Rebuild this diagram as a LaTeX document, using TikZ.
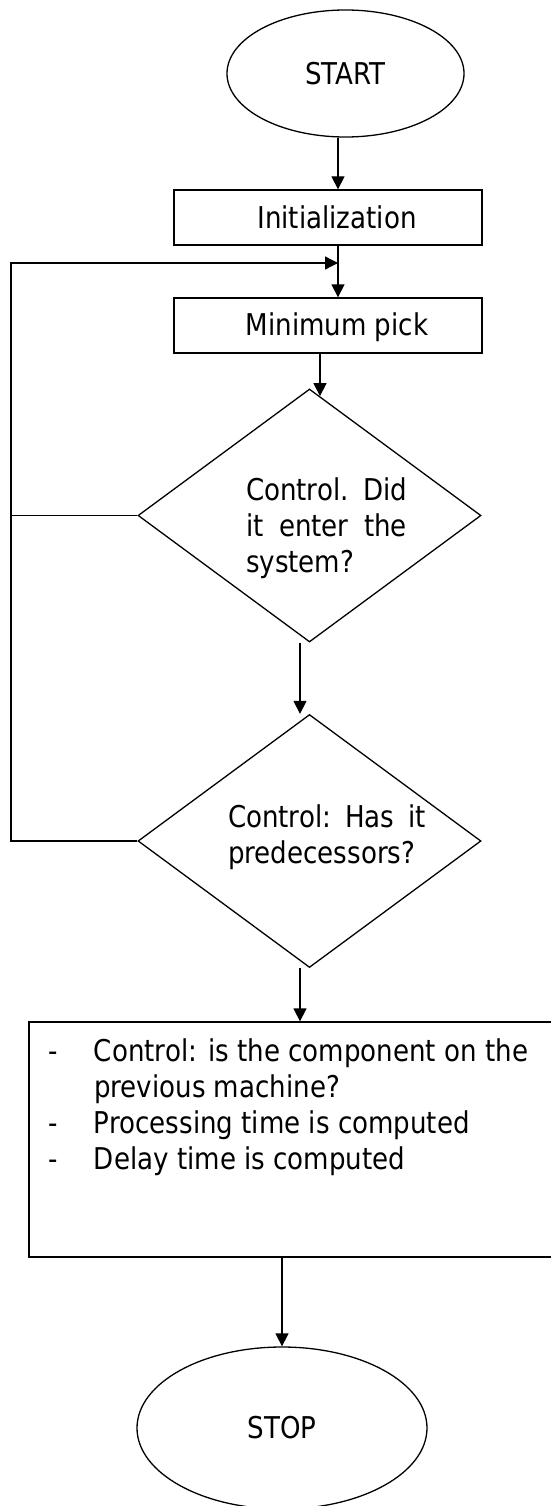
\documentclass[tikz,border=0pt]{standalone}
\usepackage{fontspec}
\setmainfont{DejaVu Sans}[FakeStretch=0.87]
\usepackage{tikz}
\usetikzlibrary{arrows.meta, positioning, shapes.geometric, calc}

\begin{document}
\begin{tikzpicture}[x=1pt, y=-1pt, line width=1.3pt,
    >={Triangle[width=13pt,length=13pt]},
    font=\fontsize{30}{36}\selectfont,
    terminal/.style={ellipse, draw, inner sep=0pt},
    process/.style={rectangle, draw, minimum width=308pt, minimum height=55pt, inner sep=0pt},
    decision/.style={diamond, draw, minimum width=343pt, minimum height=253pt, inner sep=0pt},
    question/.style={text width=#1, align=left, inner sep=0pt}]

    \useasboundingbox (0,0) rectangle (550,1506);

    \node[terminal, minimum width=237pt, minimum height=127pt] (start) at (345.5,73.5) {START};
    \node[process, label={[xshift=9pt]center:Initialization}] (init) at (328,217.5) {};
    \node[process, label={[xshift=9pt, yshift=-2pt]center:Minimum pick}] (minpick) at (328,325.5) {};
    \node[decision, label={[question=161pt, xshift=17pt, yshift=-13pt]center:{Control.\hfill Did\\it\hfill enter\hfill the\\system?}}] (ctl1) at (309.5,515.5) {};
    \node[decision, label={[question=198pt, xshift=17.5pt, yshift=4pt]center:{Control:\hfill Has\hfill it\\predecessors?}}] (ctl2) at (309.5,841) {};
    \node[rectangle, draw, minimum width=546pt, minimum height=235pt,
      label={[anchor=north west, inner sep=0pt, align=left, xshift=19pt, yshift=-17pt]north west:{%
        \makebox[46pt][l]{-}Control: is the component on the\\
        \hspace*{46pt}previous machine?\\
        \makebox[46pt][l]{-}Processing time is computed\\
        \makebox[46pt][l]{-}Delay time is computed}}] (update) at (302,1139.5) {};
    \node[terminal, minimum width=290pt, minimum height=162pt] (stop) at (282,1428) {STOP};

    \coordinate (railtop) at (11,263);
    \coordinate (join) at (338,263);
    \coordinate (hit) at ($(ctl1.north)!0.061!(ctl1.east)$);

    \draw[->] ([xshift=-7.5pt]start.south) -- ([xshift=10pt]init.north);
    \draw[->] ([xshift=10pt]init.south) -- ([xshift=10pt]minpick.north);
    \draw[->] (minpick.south -| hit) -- (hit);
    \draw[->] ([xshift=-9.5pt]ctl1.south) -- ([xshift=-9.5pt]ctl2.north);
    \draw[->] ([xshift=-9.5pt]ctl2.south) -- ([xshift=-9.5pt]ctl2.south |- update.north);
    \draw[->] (update.south -| stop.north) -- (stop.north);

    % back to minimum pick
    \draw[->] (ctl2.west) -| (railtop) -- (join);
    \draw (ctl1.west) -- (ctl1.west -| railtop);
\end{tikzpicture}
\end{document}
